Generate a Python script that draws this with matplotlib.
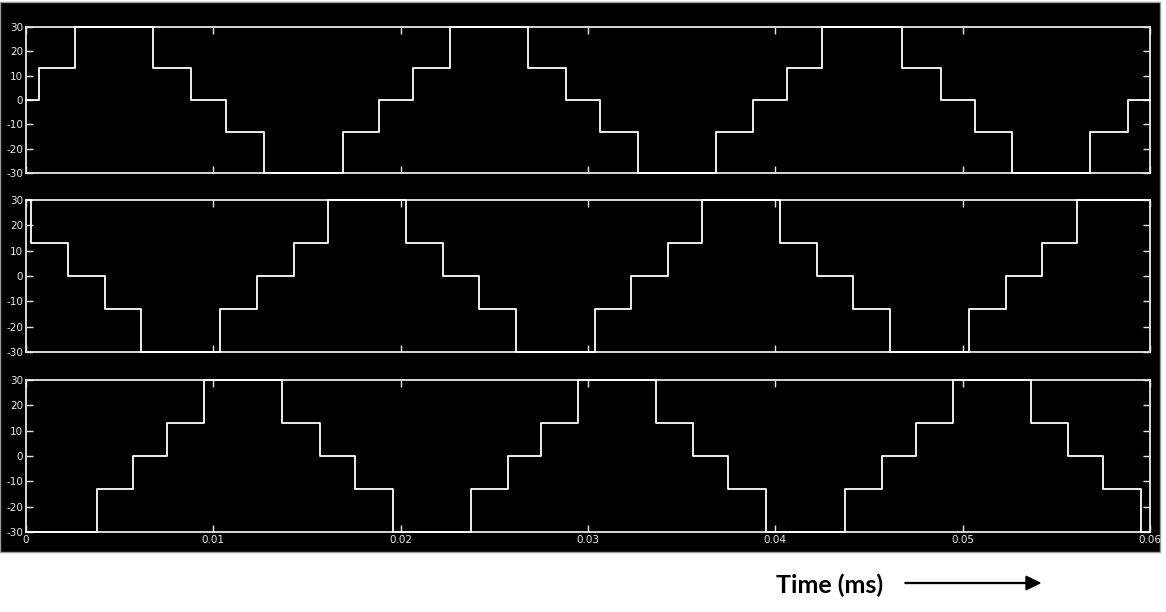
import numpy as np
import matplotlib.pyplot as plt
from matplotlib.patches import Rectangle, FancyArrow

# ------------------------------------------------------------
# Staircase phase voltages read from the scope capture
# (switching instants in seconds, level after each instant)
# ------------------------------------------------------------
T_END = 0.06

edges_a = [0.00070, 0.00262, 0.00679, 0.00882, 0.01070, 0.01273, 0.01690, 0.01882,
           0.02064, 0.02262, 0.02679, 0.02882, 0.03064, 0.03267, 0.03684, 0.03882,
           0.04064, 0.04251, 0.04674, 0.04882, 0.05064, 0.05262, 0.05679, 0.05882]
levels_a = [0,
            13, 30, 13, 0, -13, -30, -13, 0,
            13, 30, 13, 0, -13, -30, -13, 0,
            13, 30, 13, 0, -13, -30, -13, 0]

edges_b = [0.00027, 0.00225, 0.00422, 0.00615, 0.01037, 0.01235, 0.01428, 0.01610,
           0.02027, 0.02225, 0.02417, 0.02615, 0.03037, 0.03230, 0.03428, 0.03610,
           0.04027, 0.04225, 0.04417, 0.04610, 0.05032, 0.05230, 0.05422, 0.05610]
levels_b = [30,
            13, 0, -13, -30, -13, 0, 13, 30,
            13, 0, -13, -30, -13, 0, 13, 30,
            13, 0, -13, -30, -13, 0, 13, 30]

edges_c = [0.00380, 0.00572, 0.00754, 0.00952, 0.01369, 0.01572, 0.01754, 0.01957,
           0.02374, 0.02572, 0.02749, 0.02947, 0.03364, 0.03561, 0.03749, 0.03952,
           0.04374, 0.04572, 0.04749, 0.04947, 0.05364, 0.05561, 0.05749, 0.05952]
levels_c = [-30,
            -13, 0, 13, 30, 13, 0, -13, -30,
            -13, 0, 13, 30, 13, 0, -13, -30,
            -13, 0, 13, 30, 13, 0, -13, -30]

y_ticks = [-30, -20, -10, 0, 10, 20, 30]
x_ticks = [0, 0.01, 0.02, 0.03, 0.04, 0.05, 0.06]
x_labels = ["0", "0.01", "0.02", "0.03", "0.04", "0.05", "0.06"]

phases = [(edges_a, levels_a), (edges_b, levels_b), (edges_c, levels_c)]

# ------------------------------------------------------------
# Layout (figure fractions): [left, bottom, width, height]
# ------------------------------------------------------------
W, H = 1166, 612
boxes = [
    [26 / W, 1 - 173 / H, (1150 - 26) / W, (173 - 27) / H],
    [26 / W, 1 - 352 / H, (1150 - 26) / W, (352 - 200) / H],
    [26 / W, 1 - 532 / H, (1150 - 26) / W, (532 - 380) / H],
]

FG = "#e8e8e8"

fig = plt.figure(figsize=(W / 100, H / 100), dpi=100, facecolor="white")

# black scope screen behind the three traces
fig.add_artist(Rectangle((0, 1 - 552 / H), 0.995, 552 / H - 0.004,
                         transform=fig.transFigure, facecolor="black",
                         edgecolor="#999999", lw=1.0, zorder=-10))

for i, (box, (edges, levels)) in enumerate(zip(boxes, phases)):
    ax = fig.add_axes(box)
    ax.set_zorder(1)
    ax.set_facecolor("black")
    t = [0.0] + edges + [T_END]
    v = levels + [levels[-1]]
    ax.plot(t, v, drawstyle="steps-post", color="white", lw=1.3,
            clip_on=False, zorder=3)

    ax.set_xlim(0, T_END)
    ax.set_ylim(-30, 30)
    ax.set_yticks(y_ticks)
    ax.set_yticklabels([str(y) for y in y_ticks], fontsize=7.5, color=FG)
    ax.set_xticks(x_ticks)
    if i == 2:
        ax.set_xticklabels(x_labels, fontsize=7.5, color=FG)
    else:
        ax.set_xticklabels([])
    ax.tick_params(direction="in", length=5, width=1.0, color=FG, pad=2,
                   top=True, right=True)
    for s in ax.spines.values():
        s.set_color(FG)
        s.set_linewidth(1.3)

# caption with arrow below the screen
fig.text(830 / W, 1 - 585 / H, "Time (ms)", ha="center", va="center",
         fontsize=18, fontweight="bold", family=["Lato", "DejaVu Sans"],
         color="black")
fig.add_artist(FancyArrow(
    905 / W, 1 - 583 / H, (1040 - 905) / W, 0, width=0.0015,
    head_width=0.022, head_length=0.012, length_includes_head=True,
    transform=fig.transFigure, color="black"))

plt.savefig("out.png", dpi=100, facecolor="white")
